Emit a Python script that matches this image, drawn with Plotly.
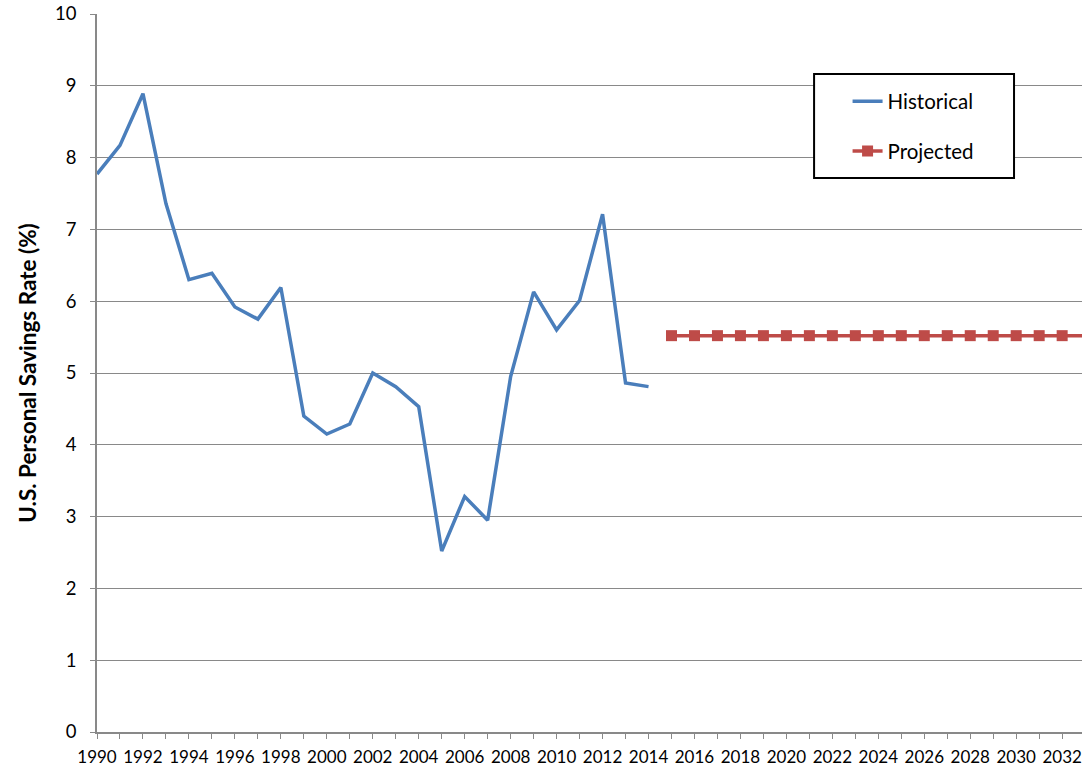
import plotly.graph_objects as go

# Annual U.S. personal savings rate (%)
hist_years = list(range(1990, 2015))
hist_rate = [7.77, 8.17, 8.89, 7.36, 6.30, 6.39, 5.92, 5.75, 6.19, 4.40,
             4.15, 4.29, 5.00, 4.81, 4.53, 2.52, 3.28, 2.95, 4.95, 6.13,
             5.60, 6.01, 7.21, 4.86, 4.81]

proj_years = list(range(2015, 2034))
proj_rate = [5.52] * len(proj_years)

tick_years = list(range(1990, 2034))
tick_text = [str(y) if y % 2 == 0 else "" for y in tick_years]

font_family = "Lato, Open Sans, sans-serif"
grid_color = "#898989"

fig = go.Figure()
fig.add_trace(go.Scatter(
    x=hist_years, y=hist_rate, name="Historical", mode="lines",
    line=dict(color="#4a7ebb", width=3.5), legendgroup="h",
))
fig.add_trace(go.Scatter(
    x=proj_years, y=proj_rate, name="Projected", mode="lines+markers",
    line=dict(color="#be4b48", width=3.5),
    marker=dict(symbol="square", size=11, color="#be4b48"),
    legendgroup="p", cliponaxis=False,
))

# legend frame
fig.add_shape(
    type="rect", xref="paper", yref="paper",
    x0=0.728, x1=0.931, y0=0.7716, y1=0.9164,
    line=dict(color="black", width=2), fillcolor="white", layer="above",
)

fig.update_layout(
    width=1082, height=767,
    margin=dict(l=97, r=0, t=14, b=35, autoexpand=False),
    paper_bgcolor="white", plot_bgcolor="white",
    font=dict(family=font_family, color="black", size=18),
    showlegend=True,
    legend=dict(
        x=0.762, y=0.906, xanchor="left", yanchor="top",
        borderwidth=0, bgcolor="rgba(0,0,0,0)",
        font=dict(size=20.5), tracegroupgap=20,
    ),
    xaxis=dict(
        range=[1990, 1990 + 985 / 22.98], automargin=False,
        tickmode="array", tickvals=tick_years, ticktext=tick_text,
        ticks="outside", ticklen=5, tickcolor=grid_color,
        showline=True, linecolor=grid_color, linewidth=1.5,
        showgrid=False, zeroline=False, tickangle=0,
        tickfont=dict(size=17), ticklabelstandoff=4,
    ),
    yaxis=dict(
        range=[0, 10], dtick=1, automargin=False,
        ticks="outside", ticklen=5, tickcolor=grid_color,
        showline=True, linecolor=grid_color, linewidth=1.5,
        showgrid=True, gridcolor=grid_color, gridwidth=1,
        zeroline=False, tickfont=dict(size=18.5), ticklabelstandoff=10,
        title=dict(text="<b>U.S. Personal Savings Rate (%)</b>",
                   font=dict(size=22.5), standoff=12),
    ),
)

fig.write_html("out.html")
